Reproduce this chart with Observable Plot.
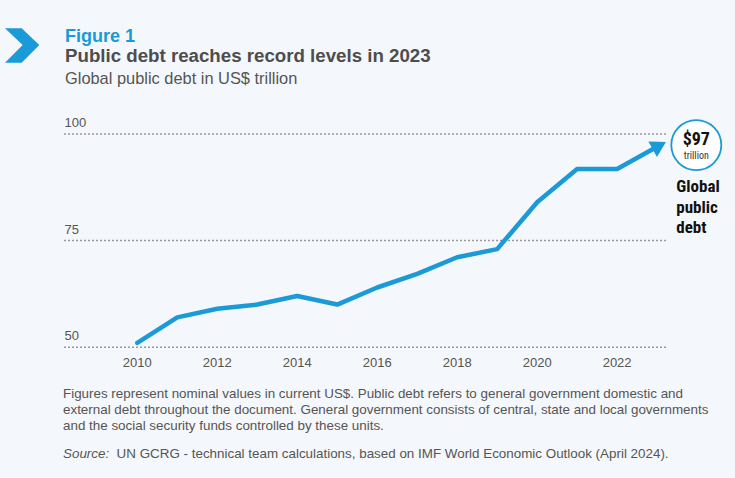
<!DOCTYPE html>
<html>
<head>
<meta charset="utf-8">
<script src="https://cdn.jsdelivr.net/npm/d3@7"></script>
<script src="https://cdn.jsdelivr.net/npm/@observablehq/plot@0.6"></script>
<style>
  html, body { margin: 0; padding: 0; }
  body { width: 735px; height: 478px; background: #f4f7fc; position: relative; overflow: hidden;
         font-family: "Liberation Sans", Arial, sans-serif; }
  .abs { position: absolute; white-space: nowrap; line-height: 1; }
  #fig { left: 65px; top: 27px; font-size: 18px; font-weight: bold; color: #1a9ad6; }
  #title { left: 65px; top: 46.5px; font-size: 18.7px; font-weight: bold; color: #4d4d4d; }
  #subtitle { left: 65px; top: 70px; font-size: 16.4px; color: #555; }
  #caption { left: 63px; top: 386px; font-size: 13.4px; color: #555; line-height: 16px; }
  #source { left: 63px; top: 446px; font-size: 13.4px; color: #555; line-height: 16px; }
  #chart { position: absolute; left: 0; top: 95px; }
</style>
</head>
<body>
<svg class="abs" style="left:0;top:0" width="50" height="70">
  <polygon points="5,28.3 21.7,28.3 39.3,45 21.7,62.7 5,62.7 22.7,45" fill="#1a9ad6"/>
</svg>
<div id="fig" class="abs">Figure 1</div>
<div id="title" class="abs">Public debt reaches record levels in 2023</div>
<div id="subtitle" class="abs">Global public debt in US$ trillion</div>
<div id="chart"></div>
<div id="caption" class="abs">Figures represent nominal values in current US$. Public debt refers to general government domestic and<br>external debt throughout the document. General government consists of central, state and local governments<br>and the social security funds controlled by these units.</div>
<div id="source" class="abs"><i>Source:</i>&nbsp; UN GCRG - technical team calculations, based on IMF World Economic Outlook (April 2024).</div>
<script>
// ---- data ----
const years = [2010, 2011, 2012, 2013, 2014, 2015, 2016, 2017, 2018, 2019, 2020, 2021, 2022, 2023];
const debt = [51, 57, 59, 60, 62, 60, 64, 67.2, 71.1, 73, 84, 91.8, 91.8, 97];
const xTicks = [2010, 2012, 2014, 2016, 2018, 2020, 2022];
const yTicks = [50, 75, 100];
const calloutValue = "$97";
const calloutUnit = "trillion";
const calloutLabel = "Global\npublic\ndebt";

const blue = "#1a9ad6";
const data = years.map((year, i) => ({year, value: debt[i]}));
const last = data[data.length - 1];
const prev = data[data.length - 2];

const W = 735, H = 285, ml = 64, mr = 68, mt = 38.5, mb = 33.3;
const xDomain = [2008.18, 2023.26];
const yDomain = [50, 100];
const pxX = (W - ml - mr) / (xDomain[1] - xDomain[0]);
const pxY = (H - mt - mb) / (yDomain[1] - yDomain[0]);
const ang = Math.atan2((last.value - prev.value) * pxY, (last.year - prev.year) * pxX) * 180 / Math.PI;
const rot = 90 - ang;

const narrow = "'Liberation Sans Narrow', 'Roboto Condensed', 'DejaVu Sans Condensed', Roboto, sans-serif";
const sans = "'Liberation Sans', Arial, sans-serif";

const plot = Plot.plot({
  width: W, height: H,
  marginLeft: ml, marginRight: mr, marginTop: mt, marginBottom: mb,
  style: {background: "transparent", overflow: "visible"},
  x: {domain: xDomain, axis: null},
  y: {domain: yDomain, axis: null},
  marks: [
    Plot.ruleY(yTicks, {stroke: "#9a9a9a", strokeWidth: 1.5, strokeDasharray: "2,2"}),
    Plot.text(yTicks, {y: d => d, text: d => String(d), frameAnchor: "left", textAnchor: "start",
      lineAnchor: "middle", dy: -10.9, fontSize: 13, fill: "#555", fontFamily: sans}),
    Plot.text(xTicks, {x: d => d, text: d => String(d), frameAnchor: "bottom",
      lineAnchor: "middle", dy: 15.8, fontSize: 13, fill: "#555", fontFamily: sans}),
    Plot.line(data, {x: "year", y: "value", stroke: blue, strokeWidth: 4.5,
      strokeLinecap: "round", strokeLinejoin: "round"}),
    Plot.dot([last], {x: "year", y: "value", symbol: "triangle", r: 6.5, fill: blue, stroke: null, rotate: rot}),
    Plot.dot([last], {x: "year", y: "value", dx: 39.2, dy: -1.7, r: 25, fill: "white", stroke: blue, strokeWidth: 1.8}),
    Plot.text([last], {x: "year", y: "value", text: () => calloutValue, dx: 39.2, dy: -7.5,
      lineAnchor: "middle", fontSize: 18, fontWeight: "bold", fill: "#111", fontFamily: narrow}),
    Plot.text([last], {x: "year", y: "value", text: () => calloutUnit, dx: 39.2, dy: 9.5,
      lineAnchor: "middle", fontSize: 10, fill: "#333", fontFamily: narrow}),
    Plot.text([last], {x: "year", y: "value", text: () => calloutLabel, dx: 19.2, dy: 30.9,
      textAnchor: "start", lineAnchor: "top", lineHeight: 1.2, fontSize: 17, fontWeight: "bold",
      fill: "#111", fontFamily: narrow})
  ]
});
document.getElementById("chart").appendChild(plot);
</script>
</body>
</html>
